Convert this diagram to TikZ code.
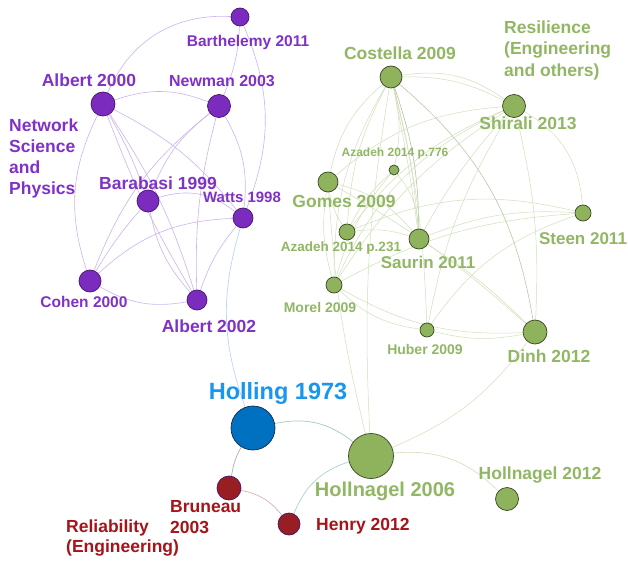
\documentclass[tikz,border=0pt]{standalone}
\usepackage{fontspec}
\setmainfont{Liberation Sans}
\usetikzlibrary{backgrounds}
\definecolor{purp}{RGB}{123,44,191}
\definecolor{purpdark}{RGB}{70,20,110}
\definecolor{purptext}{RGB}{128,50,200}
\definecolor{purpedge}{RGB}{204,180,240}
\definecolor{grn}{RGB}{143,178,92}
\definecolor{grndark}{RGB}{55,70,35}
\definecolor{grntext}{RGB}{146,183,100}
\definecolor{grnedge}{RGB}{208,224,186}
\definecolor{redn}{RGB}{152,30,36}
\definecolor{redtext}{RGB}{165,20,25}
\definecolor{bluen}{RGB}{0,112,192}
\definecolor{bluetext}{RGB}{24,150,240}
\definecolor{bluedark}{RGB}{20,40,80}
\begin{document}
\begin{tikzpicture}[x=1pt,y=-1pt,
  nd/.style={circle,inner sep=0pt,line width=0.7pt,minimum size=#1},
  pn/.style={nd=#1,fill=purp,draw=purpdark},
  gn/.style={nd=#1,fill=grn,draw=grndark},
  rn/.style={nd=#1,fill=redn,draw=purpdark},
  lab/.style={inner sep=0pt,font=\bfseries\fontsize{#1}{#1}\selectfont},
  pl/.style={lab=#1,text=purptext},
  gl/.style={lab=#1,text=grntext},
  rl/.style={lab=#1,text=redtext},
  pe/.style={draw=purpedge,line width=0.6pt},
  ge/.style={draw=grnedge,line width=0.5pt},
]
\useasboundingbox (0,0) rectangle (628,561);
% purple nodes
\node[pn=18] (bart) at (240,17) {};
\node[pn=24] (alb00) at (103,104) {};
\node[pn=23] (new) at (219,106) {};
\node[pn=22] (bar) at (148,201) {};
\node[pn=20] (watts) at (243,218) {};
\node[pn=22] (cohen) at (90,281) {};
\node[pn=20] (alb02) at (197,300) {};
% green nodes
\node[gn=22] (cost) at (391,77) {};
\node[gn=23] (shir) at (514,106) {};
\node[gn=10] (az776) at (394,170) {};
\node[gn=20] (gomes) at (328,182) {};
\node[gn=16] (az231) at (347,232) {};
\node[gn=20] (saurin) at (419,239) {};
\node[gn=16] (steen) at (583,213) {};
\node[gn=16] (morel) at (334,285) {};
\node[gn=14] (huber) at (427,330) {};
\node[gn=24] (dinh) at (535,332) {};
\node[gn=45] (holl06) at (371,456) {};
\node[gn=23] (holl12) at (507,499) {};
% others
\node[nd=44,fill=bluen,draw=bluedark] (holling) at (253,428) {};
\node[rn=24] (bruneau) at (229,488) {};
\node[rn=22] (henry) at (289,524) {};
% labels
\node[pl=15.5] (lbart) at (248,42) {Barthelemy 2011};
\node[pl=17.5] (lalb00) at (89,80) {Albert 2000};
\node[pl=16] (lnew) at (222,81) {Newman 2003};
\node[pl=17.5] (lbar) at (158,183) {Barabasi 1999};
\node[pl=15] (lwatts) at (242,197) {Watts 1998};
\node[pl=15.5] (lcohen) at (84,302) {Cohen 2000};
\node[pl=17.5] (lalb02) at (209,326) {Albert 2002};
\node[pl=17.5,align=left,anchor=west,font=\bfseries\fontsize{17.5}{21}\selectfont] (lnsp) at (9,158.5) {Network\\Science\\and\\Physics};
\node[gl=17.5] (lcost) at (400,53) {Costella 2009};
\node[gl=17.5,align=left,anchor=west,font=\bfseries\fontsize{17.5}{21.5}\selectfont] (lres) at (504,50) {Resilience\\(Engineering\\and others)};
\node[gl=17.5] (lshir) at (528,123) {Shirali 2013};
\node[gl=12] (laz776) at (395,153) {Azadeh 2014 p.776};
\node[gl=17.5] (lgomes) at (344,201) {Gomes 2009};
\node[gl=13.5] (laz231) at (341,248) {Azadeh 2014 p.231};
\node[gl=17] (lsaurin) at (428,262) {Saurin 2011};
\node[gl=17] (lsteen) at (583,239) {Steen 2011};
\node[gl=14] (lmorel) at (320,307) {Morel 2009};
\node[gl=14] (lhuber) at (425,349) {Huber 2009};
\node[gl=17.5] (ldinh) at (549,356) {Dinh 2012};
\node[lab=23.5,text=bluetext] (lholling) at (278,393) {Holling 1973};
\node[gl=20] (lholl06) at (385,491) {Hollnagel 2006};
\node[gl=17.5] (lholl12) at (540,475) {Hollnagel 2012};
\node[rl=17.5,align=left,anchor=west,font=\bfseries\fontsize{17.5}{21}\selectfont] (lbru) at (170,517) {Bruneau\\2003};
\node[rl=17.5,anchor=west] (lhenry) at (316,526) {Henry 2012};
\node[rl=17.5,align=left,anchor=west,font=\bfseries\fontsize{17.5}{20}\selectfont] (lrel) at (66,538) {Reliability\\(Engineering)};
% edges
\begin{scope}[on background layer]
\fill[white] (0,0) rectangle (628,561);
% purple
\draw[pe] (alb00) to[bend left=35] (bart);
\draw[pe] (bart) to[bend left=10] (new);
\draw[pe] (bart) to[bend left=22] (watts);
\draw[pe] (alb00) to[bend left=20] (new);
\draw[pe] (alb00) to[bend right=22] (cohen);
\draw[pe] (alb00) to[bend left=8] (alb02);
\draw[pe] (alb00) to[bend right=5] (alb02);
\draw[pe] (alb00) to[bend left=12] (watts);
\draw[pe] (alb00) to[bend left=5] (bar);
\draw[pe] (new) to[bend right=15] (cohen);
\draw[pe] (new) to[bend right=15] (bar);
\draw[pe] (new) to[bend right=8] (alb02);
\draw[pe] (new) to[bend left=18] (watts);
\draw[pe] (bar) to[bend left=28] (watts);
\draw[pe] (bar) to[bend right=15] (alb02);
\draw[pe] (bar) to[bend right=5] (cohen);
\draw[pe] (watts) to[bend right=20] (cohen);
\draw[pe] (watts) to[bend right=10] (alb02);
\draw[pe] (cohen) to[bend right=20] (alb02);
\draw[draw=purpedge!60!bluetext!50,line width=0.7pt] (watts) to[bend right=18] (holling);
% green
\draw[ge] (cost) to[bend left=22] (shir);
\draw[ge] (cost) to[bend left=14] (shir);
\draw[ge] (cost) to[bend right=18] (gomes);
\draw[ge] (cost) to[bend right=12] (az231);
\draw[ge] (cost) to[bend right=15] (morel);
\draw[ge] (cost) to[bend left=5] (saurin);
\draw[ge,draw=grnedge!75!grndark] (cost) to[bend left=9] (saurin);
\draw[ge] (cost) to[bend left=2] (saurin);
\draw[ge,draw=grnedge!80!grndark] (cost) to[bend left=20] (dinh);
\draw[ge] (cost) to[bend left=6] (huber);
\draw[ge] (cost) to[bend left=12] (az776);
\draw[ge] (cost) to[bend right=6] (holl06);
\draw[ge] (shir) to[bend right=18] (gomes);
\draw[ge] (shir) to[bend right=14] (az231);
\draw[ge] (shir) to[bend right=20] (morel);
\draw[ge] (shir) to[bend right=12] (morel);
\draw[ge] (shir) to[bend left=28] (steen);
\draw[ge] (shir) to[bend left=8] (dinh);
\draw[ge] (shir) to[bend right=6] (saurin);
\draw[ge] (shir) to[bend right=10] (huber);
\draw[ge] (steen) to[bend right=18] (az231);
\draw[ge] (steen) to[bend right=12] (saurin);
\draw[ge] (steen) to[bend right=12] (morel);
\draw[ge] (steen) to[bend right=18] (huber);
\draw[ge] (dinh) to[bend left=12] (huber);
\draw[ge] (dinh) to[bend left=16] (morel);
\draw[ge] (dinh) to[bend right=6] (saurin);
\draw[ge] (dinh) to[bend right=6] (gomes);
\draw[ge] (dinh) to[bend left=15] (holl06);
\draw[ge] (gomes) to[bend left=18] (saurin);
\draw[ge] (gomes) to[bend right=12] (morel);
\draw[ge] (gomes) to[bend right=12] (az231);
\draw[ge] (az776) to[bend right=12] (morel);
\draw[ge] (az776) to[bend left=18] (saurin);
\draw[ge] (az776) to[bend right=10] (az231);
\draw[ge] (az231) to[bend left=12] (saurin);
\draw[ge] (morel) to[bend right=18] (huber);
\draw[ge] (holl06) to[bend left=5] (gomes);
% bottom
\draw[draw=bluetext!35!grn!60,line width=0.7pt] (holling) to[bend left=25] (holl06);
\draw[draw=bluetext!50!redn!50,line width=0.7pt] (holling) to[bend right=10] (bruneau);
\draw[draw=redn!35,line width=0.7pt] (bruneau) to[bend left=20] (henry);
\draw[draw=bluetext!25!grnedge,line width=0.6pt] (henry) to[bend left=25] (holl06);
\draw[ge,line width=0.6pt] (holl06) to[bend left=25] (holl12);
\end{scope}
\end{tikzpicture}
\end{document}
